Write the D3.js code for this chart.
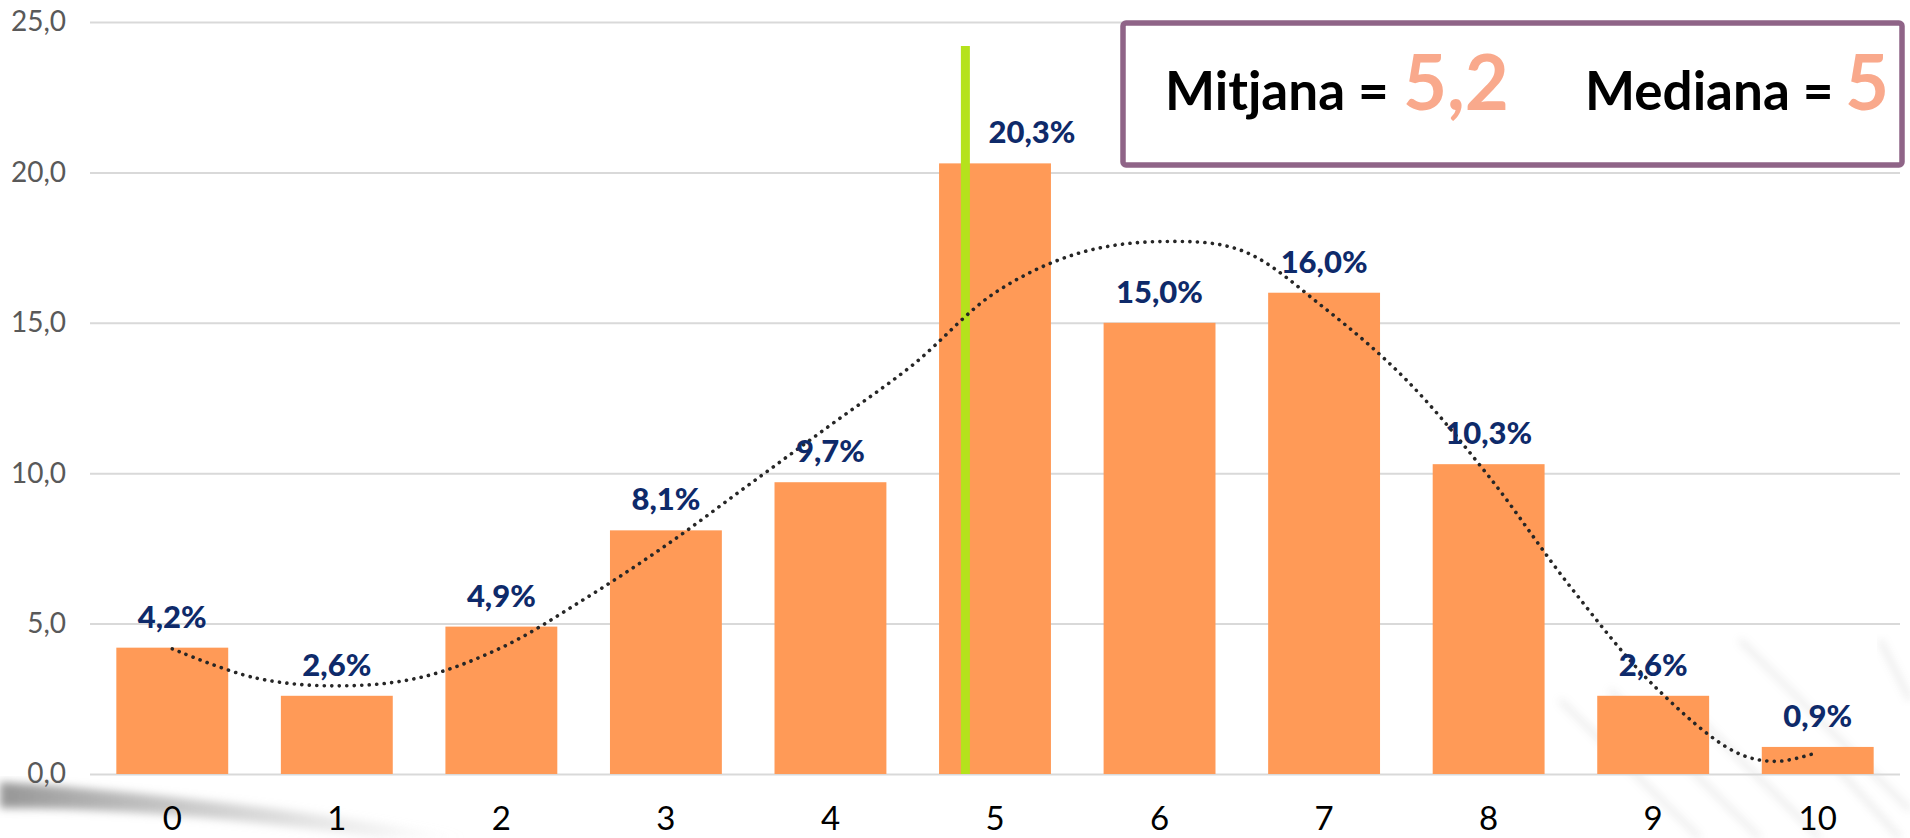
<!DOCTYPE html>
<html>
<head>
<meta charset="utf-8">
<script src="https://cdn.jsdelivr.net/npm/d3@7"></script>
<style>
  html, body { margin: 0; padding: 0; background: #fff; overflow: hidden; }
  svg { display: block; font-family: Lato, "Open Sans", sans-serif; }
</style>
</head>
<body>
<div id="chart"></div>
<script>
// dades
const categories = ["0", "1", "2", "3", "4", "5", "6", "7", "8", "9", "10"];
const percentages = [4.2, 2.6, 4.9, 8.1, 9.7, 20.3, 15.0, 16.0, 10.3, 2.6, 0.9];
const yTicks = [0, 5, 10, 15, 20, 25];

// línia de tendència (llegida del gràfic)
const trendX = [0, 0.5, 1, 1.5, 2, 2.5, 3, 3.5, 4, 4.5, 5, 5.5, 6, 6.5, 7, 7.5, 8, 8.5, 9, 9.5, 9.75, 10];
const trendY = [4.16, 3.2, 2.93, 3.2, 4.2, 5.8, 7.6, 9.6, 11.6, 13.6, 16.0, 17.3, 17.7, 17.4, 15.5, 13.1, 9.9, 6.2, 2.96, 0.73, 0.42, 0.72];

const meanLabel = "Mitjana =";
const meanValue = "5,2";
const medianLabel = "Mediana =";
const medianValue = "5";
const medianLinePos = 4.82;
const medianLineTop = 24.2;

const width = 1910, height = 838;
const margin = { top: 22, left: 90, bottom: 64, right: 10 };

const locale = d3.formatLocale({ decimal: ",", thousands: ".", grouping: [3], currency: ["", "€"] });
const fmt1 = locale.format(".1f");

const svg = d3.select("#chart").append("svg")
  .attr("width", width)
  .attr("height", height);

// fons (textura de la diapositiva)
const defs = svg.append("defs");
defs.append("filter").attr("id", "blur").append("feGaussianBlur").attr("stdDeviation", 4);
const grad = defs.append("linearGradient").attr("id", "streak").attr("x1", 0).attr("x2", 1);
grad.append("stop").attr("offset", 0).attr("stop-color", "#8a8a8a").attr("stop-opacity", 0.9);
grad.append("stop").attr("offset", 0.6).attr("stop-color", "#bbb").attr("stop-opacity", 0.5);
grad.append("stop").attr("offset", 1).attr("stop-color", "#ddd").attr("stop-opacity", 0);

const bg = svg.append("g");
bg.append("path")
  .attr("d", "M0,782 C150,792 320,812 470,838 L380,838 C250,820 120,808 0,808 Z")
  .attr("fill", "url(#streak)")
  .attr("filter", "url(#blur)");
[[1560, 700, 1700, 838], [1610, 690, 1760, 838], [1700, 720, 1820, 838], [1740, 640, 1910, 810], [1830, 760, 1900, 838], [1880, 640, 1910, 700]]
  .forEach(([x1, y1, x2, y2]) => {
    bg.append("line")
      .attr("x1", x1).attr("y1", y1).attr("x2", x2).attr("y2", y2)
      .attr("stroke", "#999").attr("stroke-width", 3).attr("opacity", 0.35)
      .attr("filter", "url(#blur)");
  });

const y = d3.scaleLinear()
  .domain([0, 25])
  .range([height - margin.bottom, margin.top]);

const x = d3.scaleBand()
  .domain(categories)
  .range([margin.left, width - margin.right])
  .paddingInner(0.32)
  .paddingOuter(0.16);

const bw = x.bandwidth();
const xPos = d3.scaleLinear()
  .domain([0, categories.length - 1])
  .range([x(categories[0]) + bw / 2, x(categories[categories.length - 1]) + bw / 2]);

// eix Y amb línies de quadrícula
const yAxis = svg.append("g")
  .attr("transform", `translate(${margin.left},0)`)
  .call(d3.axisLeft(y).tickValues(yTicks).tickFormat(fmt1)
    .tickSize(-(width - margin.left - margin.right)).tickPadding(24));
yAxis.select(".domain").remove();
yAxis.selectAll(".tick line").attr("stroke", "#d9d9d9").attr("stroke-width", 2);
yAxis.selectAll(".tick text")
  .attr("fill", "#595959")
  .style("font-size", "28px")
  .style("font-family", "Lato, sans-serif");

// barres
svg.append("g").selectAll("rect")
  .data(percentages)
  .join("rect")
  .attr("x", (d, i) => x(categories[i]))
  .attr("y", d => y(d))
  .attr("width", bw)
  .attr("height", d => y(0) - y(d))
  .attr("fill", "#ff9a57");

// línia de la mediana
svg.append("line")
  .attr("x1", xPos(medianLinePos)).attr("x2", xPos(medianLinePos))
  .attr("y1", y(medianLineTop)).attr("y2", y(0))
  .attr("stroke", "#b5e21c")
  .attr("stroke-width", 9);

// tendència (punts)
const line = d3.line()
  .x((d, i) => xPos(trendX[i]))
  .y(d => y(d))
  .curve(d3.curveCatmullRom.alpha(0.5));
svg.append("path")
  .attr("d", line(trendY))
  .attr("fill", "none")
  .attr("stroke", "#262626")
  .attr("stroke-width", 3.6)
  .attr("stroke-linecap", "round")
  .attr("stroke-dasharray", "0.1 7.4");

// etiquetes de dades
svg.append("g").selectAll("text")
  .data(percentages)
  .join("text")
  .attr("x", (d, i) => xPos(i) + (i === 5 ? 37 : 0))
  .attr("y", d => y(d) - 20)
  .attr("text-anchor", "middle")
  .attr("fill", "#0e2a6a")
  .style("font-size", "31px")
  .style("font-weight", "900")
  .text(d => fmt1(d) + "%");

// eix X
const xAxis = svg.append("g")
  .attr("transform", `translate(0,${y(0)})`)
  .call(d3.axisBottom(x).tickSize(0).tickPadding(0));
xAxis.select(".domain").remove();
xAxis.selectAll(".tick text")
  .attr("dy", null)
  .attr("y", 56)
  .attr("fill", "#000")
  .style("font-size", "33px")
  .style("font-family", "Lato, sans-serif");

// quadre mitjana / mediana
const box = svg.append("g");
box.append("rect")
  .attr("x", 1123).attr("y", 23)
  .attr("width", 779).attr("height", 142)
  .attr("rx", 3)
  .attr("fill", "#fff")
  .attr("stroke", "#8f6487")
  .attr("stroke-width", 5.5);

function boxText(label, value, xl, xv) {
  box.append("text")
    .attr("x", xl).attr("y", 110)
    .attr("fill", "#000")
    .style("font-size", "53px").style("font-weight", "bold")
    .text(label);
  box.append("text")
    .attr("x", xv).attr("y", 110)
    .attr("fill", "#f9a98c")
    .style("font-size", "76px").style("font-weight", "bold")
    .text(value);
}
boxText(meanLabel, meanValue, 1165, 1403);
boxText(medianLabel, medianValue, 1585, 1845);
</script>
</body>
</html>
